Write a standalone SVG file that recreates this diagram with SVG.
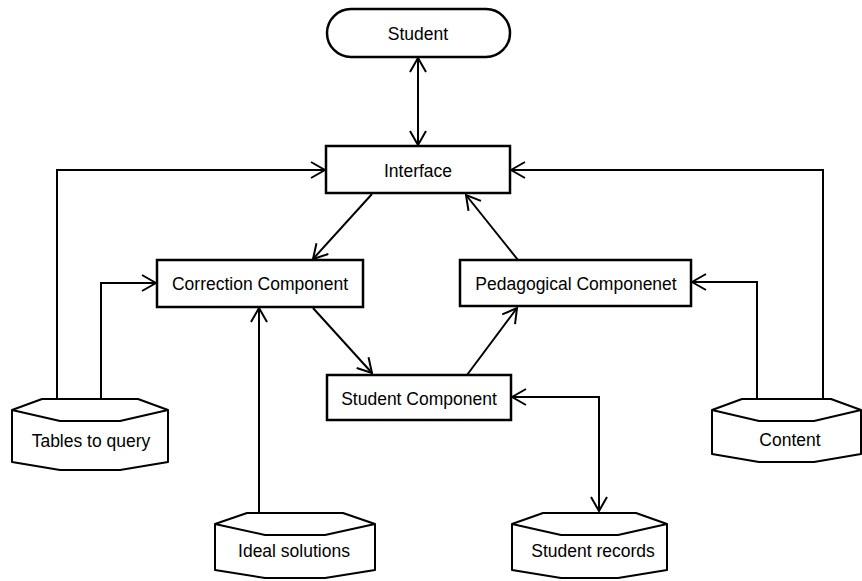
<svg xmlns="http://www.w3.org/2000/svg" width="862" height="581" viewBox="0 0 862 581">
<style>
.box{fill:#fff;stroke:#000;stroke-width:2.5}
.cyl{fill:#fff;stroke:#000;stroke-width:2;stroke-linejoin:round}
.lbl{font-family:"Liberation Sans",Arial,sans-serif;font-size:17.5px;fill:#000;text-anchor:middle}
.con{fill:none;stroke:#000;stroke-width:2}
</style>
<defs>
<marker id="ah" viewBox="0 0 16 18" refX="15" refY="9" markerWidth="16" markerHeight="18" markerUnits="userSpaceOnUse" orient="auto-start-reverse">
<path d="M1,1 L15,9 L1,17" fill="none" stroke="#000" stroke-width="2"/>
</marker>
</defs>
<rect width="862" height="581" fill="#fff"/>
<g id="connectors">
<line class="con" x1="418" y1="58" x2="418" y2="145" marker-start="url(#ah)" marker-end="url(#ah)"/>
<line class="con" x1="372" y1="194" x2="313" y2="259" marker-end="url(#ah)"/>
<line class="con" x1="518" y1="260" x2="466" y2="195" marker-end="url(#ah)"/>
<line class="con" x1="313" y1="308" x2="372" y2="373" marker-end="url(#ah)"/>
<line class="con" x1="467" y1="375" x2="517" y2="308" marker-end="url(#ah)"/>
<polyline class="con" points="57,398 57,170 325,170" marker-end="url(#ah)"/>
<polyline class="con" points="101,398 101,283 156,283" marker-end="url(#ah)"/>
<line class="con" x1="259" y1="512" x2="259" y2="308" marker-end="url(#ah)"/>
<polyline class="con" points="512,397 599,397 599,511" marker-start="url(#ah)" marker-end="url(#ah)"/>
<polyline class="con" points="757,398 757,282 692,282" marker-end="url(#ah)"/>
<polyline class="con" points="823,398 823,170 511,170" marker-end="url(#ah)"/>
</g>
<g id="student">
<rect class="box" x="327" y="9" width="183" height="48" rx="24" ry="24"/>
<text class="lbl" x="418" y="40">Student</text>
</g>
<g id="interface">
<rect class="box" x="326" y="146" width="184" height="47"/>
<text class="lbl" x="418" y="177">Interface</text>
</g>
<g id="correction">
<rect class="box" x="157" y="260" width="206" height="47"/>
<text class="lbl" x="260" y="290">Correction Component</text>
</g>
<g id="pedagogical">
<rect class="box" x="460" y="260" width="231" height="46"/>
<text class="lbl" x="576" y="290">Pedagogical Componenet</text>
</g>
<g id="studentcomponent">
<rect class="box" x="327" y="375" width="184" height="45"/>
<text class="lbl" x="419" y="405">Student Component</text>
</g>
<g id="tables">
<path class="cyl" d="M12,410 L42,399 L138,399 L168,410 L168,462 L120,470 L60,470 L12,462 Z"/>
<path class="cyl" d="M12,410 L60,421 L120,421 L168,410"/>
<text class="lbl" x="91" y="447">Tables to query</text>
</g>
<g id="ideal">
<path class="cyl" d="M215,524 L247,513 L343,513 L375,524 L375,570 L325,578 L265,578 L215,570 Z"/>
<path class="cyl" d="M215,524 L265,535 L325,535 L375,524"/>
<text class="lbl" x="294" y="557">Ideal solutions</text>
</g>
<g id="records">
<path class="cyl" d="M512,524 L543,513 L636,513 L667,524 L667,570 L618,578 L561,578 L512,570 Z"/>
<path class="cyl" d="M512,524 L561,535 L618,535 L667,524"/>
<text class="lbl" x="593" y="557">Student records</text>
</g>
<g id="content">
<path class="cyl" d="M712,410 L742,399 L831,399 L861,410 L861,454 L814,462 L759,462 L712,454 Z"/>
<path class="cyl" d="M712,410 L759,421 L814,421 L861,410"/>
<text class="lbl" x="790" y="446">Content</text>
</g>
</svg>
